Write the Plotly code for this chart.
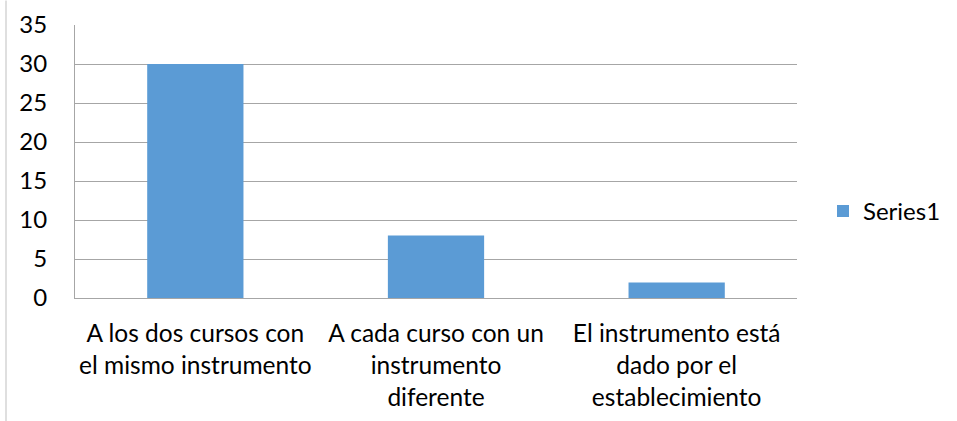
import plotly.graph_objects as go

categories = [
    "A los dos cursos con<br>el mismo instrumento",
    "A cada curso con un<br>instrumento<br>diferente",
    "El instrumento está<br>dado por el<br>establecimiento",
]
series1 = [30, 8, 2]
y_ticks = [0, 5, 10, 15, 20, 25, 30, 35]

FONT = "Lato, Noto Sans, sans-serif"
L, R, T, B = 75, 160, 24.5, 123.3
W, H = 957, 421
pw, ph = W - L - R, H - T - B

fig = go.Figure()
fig.add_trace(go.Bar(
    x=categories, y=series1, name="Series1",
    marker=dict(color="#5B9BD5", line=dict(width=0)),
    width=0.4,
))

fig.update_layout(
    width=W, height=H,
    margin=dict(l=L, r=R, t=T, b=B, pad=0, autoexpand=False),
    paper_bgcolor="white", plot_bgcolor="white",
    font=dict(family=FONT, size=24, color="#000000"),
    showlegend=True,
    legend=dict(x=(823 - L) / pw, y=(H - 211 - B) / ph, xanchor="left", yanchor="middle",
                font=dict(size=24), bgcolor="rgba(0,0,0,0)"),
    bargap=0.6,
    xaxis=dict(
        showgrid=False, showline=True, linecolor="#a6a6a6", linewidth=1, automargin=False,
        ticks="", ticklabelstandoff=14, tickfont=dict(size=24.5),
    ),
    yaxis=dict(
        range=[0, 35], tickvals=y_ticks, showgrid=True, gridcolor="#a6a6a6", gridwidth=1,
        showline=True, linecolor="#a6a6a6", linewidth=1, zeroline=False, automargin=False,
        ticks="", ticklabelstandoff=22, tickfont=dict(size=24),
    ),
    shapes=[dict(type="line", xref="paper", yref="paper",
                 x0=(6 - L) / pw, x1=(6 - L) / pw,
                 y0=(H - B - 0) / ph, y1=(H - B - H) / ph,
                 line=dict(color="#bfbfbf", width=1))],
)

fig.write_html("out.html", config={"displayModeBar": False},
               post_script="document.body.style.margin='0';document.body.style.overflow='hidden';")
